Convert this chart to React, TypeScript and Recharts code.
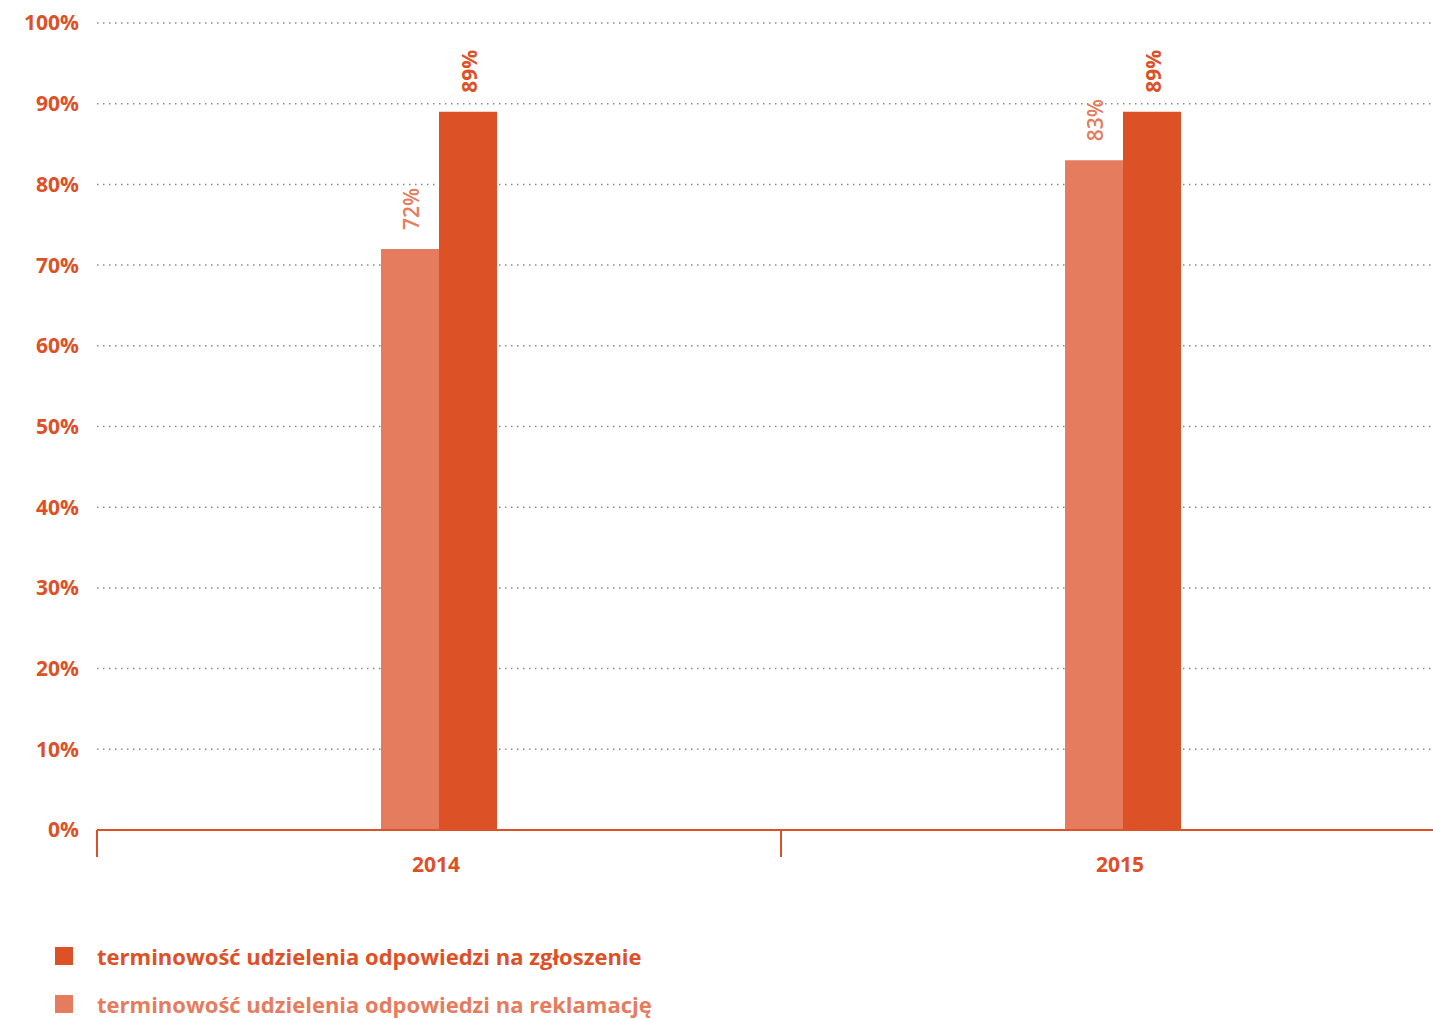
import React from "react";
import { BarChart, Bar, XAxis, YAxis, CartesianGrid, LabelList } from "recharts";

const years = ["2014", "2015"];
const reklamacjeValues = [72, 83];
const zgloszenieValues = [89, 89];
const yTicks = [0, 10, 20, 30, 40, 50, 60, 70, 80, 90, 100];

const legendItems = [
  { label: "terminowość udzielenia odpowiedzi na zgłoszenie", color: "#DD5127" },
  { label: "terminowość udzielenia odpowiedzi na reklamację", color: "#E57C5E" },
];

const DARK = "#DD5127";
const LIGHT = "#E57C5E";
const FONT = "'Open Sans', 'Noto Sans', sans-serif";

const data = years.map((year, i) => ({
  year,
  reklamacje: reklamacjeValues[i],
  zgloszenie: zgloszenieValues[i],
}));

// year label centred under the group, plus a short tick at the left edge of the band
function YearTick(props: any) {
  const { x, y, payload } = props;
  const half = payload?.offset ?? 342;
  const left = x - half;
  return (
    <g>
      <line x1={left} y1={y} x2={left} y2={y + 27} stroke={DARK} strokeWidth={2} />
      <text
        x={x - 3}
        y={y + 42}
        textAnchor="middle"
        fill={DARK}
        fontFamily={FONT}
        fontWeight={700}
        fontSize={21}
      >
        {payload.value}
      </text>
    </g>
  );
}

function makeValueLabel(color: string, weight: number) {
  return (props: any) => {
    const { x, y, width, value } = props;
    const cx = Number(x) + Number(width) / 2 + 9;
    const ty = Number(y) - 19;
    return (
      <text
        x={cx}
        y={ty}
        transform={`rotate(-90 ${cx} ${ty})`}
        textAnchor="start"
        fill={color}
        fontFamily={FONT}
        fontWeight={weight}
        fontSize={21}
      >
        {`${value}%`}
      </text>
    );
  };
}

export default function App() {
  return (
    <div
      style={{
        position: "absolute",
        left: 0,
        top: 0,
        width: 1433,
        height: 1019,
        overflow: "hidden",
        background: "#fff",
        fontFamily: FONT,
      }}
    >
      <BarChart
        width={1470}
        height={1019}
        data={data}
        margin={{ top: 23, right: 5, left: 0, bottom: 129 }}
        barGap={0}
        barSize={58}
      >
        <CartesianGrid
          horizontal
          vertical={false}
          stroke="#8a8a8a"
          strokeWidth={1.5}
          strokeDasharray="1.5 4.5"
        />
        <YAxis
          type="number"
          domain={[0, 100]}
          ticks={yTicks}
          width={97}
          axisLine={false}
          tickLine={false}
          tickSize={0}
          tickMargin={18}
          tickFormatter={(v: number) => `${v}%`}
          tick={{ fill: DARK, fontFamily: FONT, fontWeight: 700, fontSize: 21 }}
        />
        <XAxis
          dataKey="year"
          height={60}
          axisLine={{ stroke: DARK, strokeWidth: 2 }}
          tickLine={false}
          tickSize={0}
          tickMargin={0}
          tick={<YearTick />}
          interval={0}
        />
        <Bar dataKey="reklamacje" fill={LIGHT} isAnimationActive={false}>
          <LabelList dataKey="reklamacje" content={makeValueLabel(LIGHT, 600)} />
        </Bar>
        <Bar dataKey="zgloszenie" fill={DARK} isAnimationActive={false}>
          <LabelList dataKey="zgloszenie" content={makeValueLabel(DARK, 700)} />
        </Bar>
      </BarChart>
      {legendItems.map((item, i) => (
        <div
          key={item.label}
          style={{
            position: "absolute",
            left: 55,
            top: 941 + i * 48,
            display: "flex",
            alignItems: "center",
            height: 30,
          }}
        >
          <div style={{ width: 18, height: 18, background: item.color }} />
          <span
            style={{
              marginLeft: 24,
              color: item.color,
              fontWeight: 700,
              fontSize: 22,
              whiteSpace: "nowrap",
            }}
          >
            {item.label}
          </span>
        </div>
      ))}
    </div>
  );
}
